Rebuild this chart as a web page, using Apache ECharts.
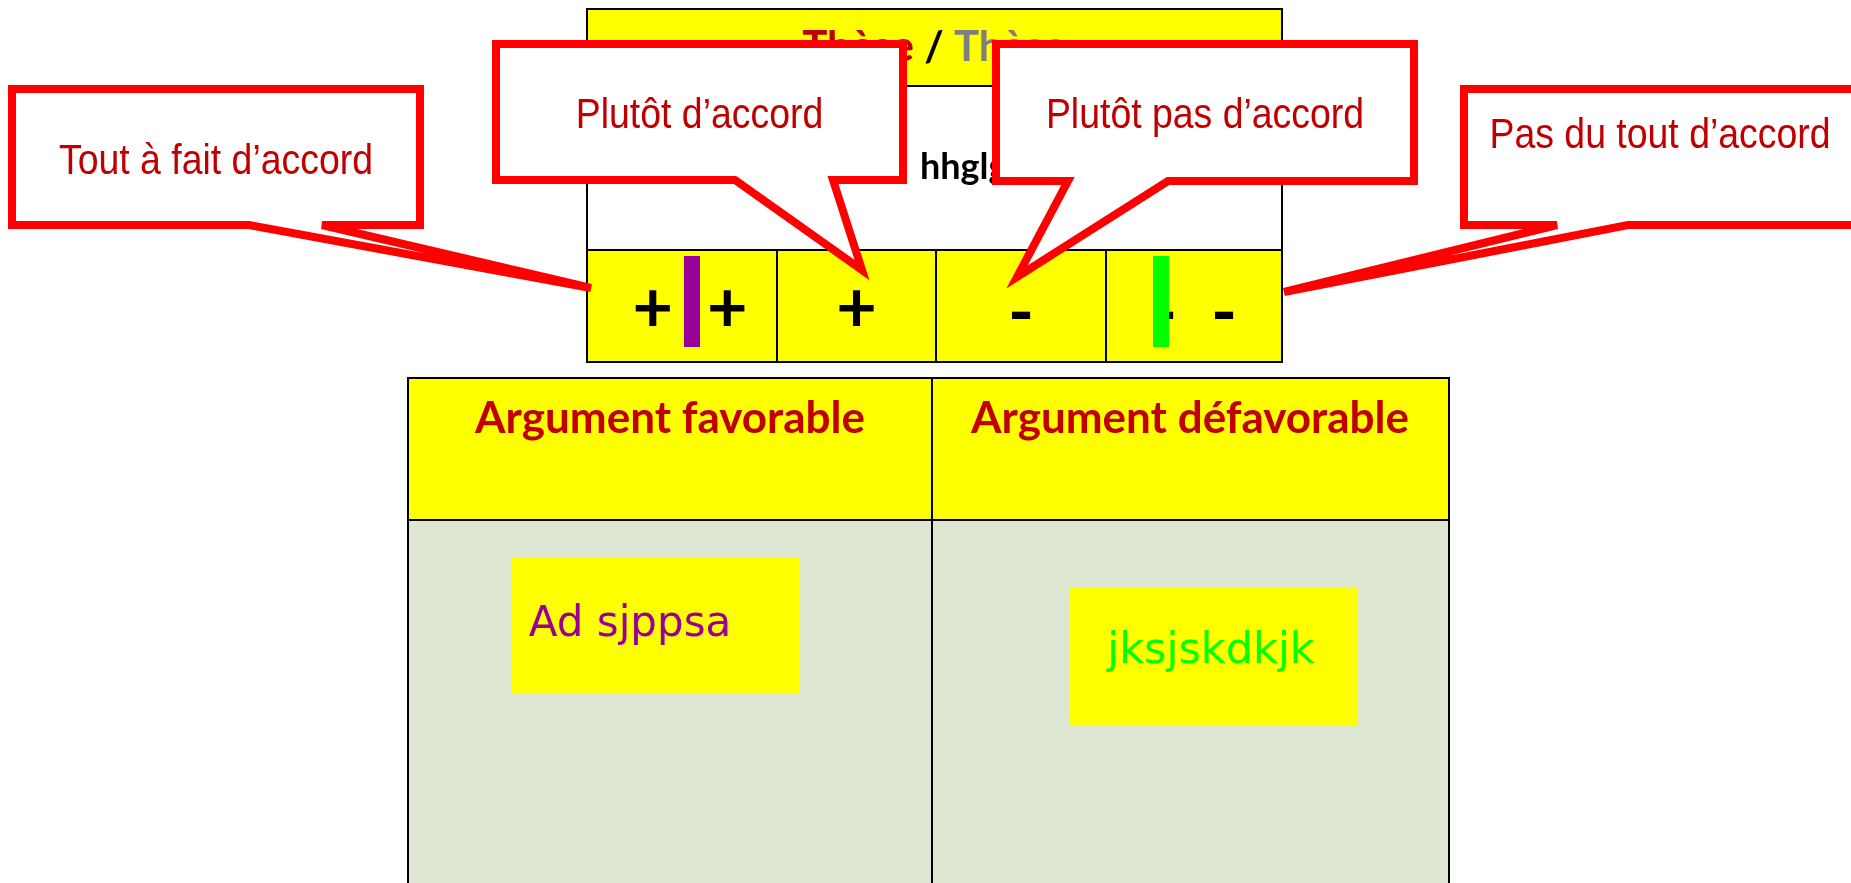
<!DOCTYPE html>
<html>
<head>
<meta charset="utf-8">
<title>Thèse / Thèse</title>
<script src="https://cdn.jsdelivr.net/npm/echarts@6/dist/echarts.min.js"></script>
<style>
html, body { margin: 0; padding: 0; background: #fff; }
#main { width: 1851px; height: 883px; }
</style>
</head>
<body>
<div id="main"></div>
<script>
// textes du schéma
var titleParts = ['Thèse', '/', 'Thèse'];
var subject = 'hhglgjhg';
var scaleLabels = ['Tout à fait d’accord', 'Plutôt d’accord', 'Plutôt pas d’accord', 'Pas du tout d’accord'];
var scaleMarks = ['+  +', '+', '-', '-  -'];
var argumentHeaders = ['Argument favorable', 'Argument défavorable'];
var argumentNotes = ['Ad sjppsa', 'jksjskdkjk'];

var RED = '#c00000';
var YELLOW = '#ffff00';

var chart = echarts.init(document.getElementById('main'));

// colonnes du tableau du haut
var colX = [587, 777, 936, 1106, 1282];

function cell(x, y, w, h, fill) {
	return {
		type: 'rect',
		shape: { x: x, y: y, width: w, height: h },
		style: { fill: fill, stroke: '#000', lineWidth: 2 }
	};
}

function txt(x, y, text, opts) {
	var st = {
		text: text, x: 0, y: 0,
		fill: opts.fill || '#000',
		fontSize: opts.fontSize,
		fontFamily: opts.fontFamily || 'Lato',
		fontWeight: opts.fontWeight || 'normal',
		align: opts.align || 'center', verticalAlign: 'middle',
		textAlign: opts.align || 'center', textVerticalAlign: 'middle'
	};
	if (opts.rich) st.rich = opts.rich;
	return { type: 'text', z: opts.z || 10, x: x, y: y, scaleX: opts.scaleX || 1, style: st };
}

// bulle : rectangle + pointe
function callout(box, tail, label, textY) {
	var x0 = box[0], y0 = box[1], x1 = box[2], y1 = box[3];
	var pts = [[x0, y0], [x1, y0], [x1, y1], [tail.b, y1], tail.tip, [tail.a, y1], [x0, y1]];
	return [{
		type: 'polygon', z: 20,
		shape: { points: pts },
		style: { fill: '#fff', stroke: '#ff0000', lineWidth: 8, lineJoin: 'miter', miterLimit: 5 }
	}, txt((x0 + x1) / 2, textY, label, {
		fontSize: 43, scaleX: 0.87, fontFamily: '"Liberation Sans", Arial', fill: RED, z: 21
	})];
}

var els = [];

// tableau du haut
els.push(cell(587, 9, 695, 77, YELLOW));
els.push(cell(587, 86, 695, 164, '#fff'));
for (var i = 0; i < 4; i++) {
	els.push(cell(colX[i], 250, colX[i + 1] - colX[i], 112, YELLOW));
}
els.push(txt(934, 47, '{r|' + titleParts[0] + '} {k|' + titleParts[1] + '} {g|' + titleParts[2] + '}', {
	fontSize: 42, fontWeight: 'bold',
	rich: {
		r: { fill: RED, fontSize: 42, fontWeight: 'bold', fontFamily: 'Lato' },
		k: { fill: '#000', fontSize: 42, fontWeight: 'bold', fontFamily: 'Lato' },
		g: { fill: '#7f7f7f', fontSize: 42, fontWeight: 'bold', fontFamily: 'Lato' }
	}
}));
els.push(txt(920, 167, subject, { fontSize: 36, fontWeight: 'bold', align: 'left' }));
for (var j = 0; j < 4; j++) {
	var isPlus = scaleMarks[j].charAt(0) === '+';
	els.push(txt((colX[j] + colX[j + 1]) / 2 + (j === 0 ? 8 : 0), isPlus ? 309.5 : 314.5, scaleMarks[j], { fontSize: 70, fontWeight: 'bold' }));
}
// repères de vote
els.push({ type: 'rect', z: 12, shape: { x: 684, y: 256, width: 16, height: 91 }, style: { fill: '#990099' } });
els.push({ type: 'rect', z: 12, shape: { x: 1153, y: 256, width: 16, height: 91 }, style: { fill: '#00ff00' } });

// tableau des arguments
els.push(cell(408, 378, 524, 142, YELLOW));
els.push(cell(932, 378, 517, 142, YELLOW));
els.push(cell(408, 520, 524, 400, '#dde6d1'));
els.push(cell(932, 520, 517, 400, '#dde6d1'));
els.push(txt(670, 419, argumentHeaders[0], { fontSize: 44, fontWeight: 'bold', fill: RED }));
els.push(txt(1190, 419, argumentHeaders[1], { fontSize: 44, fontWeight: 'bold', fill: RED }));

els.push({ type: 'rect', z: 11, shape: { x: 511, y: 557, width: 289, height: 137 }, style: { fill: YELLOW } });
els.push({ type: 'rect', z: 11, shape: { x: 1070, y: 588, width: 288, height: 137 }, style: { fill: YELLOW } });
els.push(txt(630, 625, argumentNotes[0], { fontSize: 42, fontFamily: 'DejaVu Sans', fill: '#990099', z: 12 }));
els.push(txt(1211, 652, argumentNotes[1], { fontSize: 43, fontFamily: 'DejaVu Sans', fill: '#00ff00', z: 12 }));

// bulles
els = els.concat(callout([12, 89, 420, 225], { a: 249, b: 322, tip: [591, 288] }, scaleLabels[0], 162));
els = els.concat(callout([496, 44, 903, 180], { a: 735, b: 833, tip: [862, 270] }, scaleLabels[1], 116.5));
els = els.concat(callout([996, 44, 1414, 181], { a: 1068, b: 1168, tip: [1017, 277] }, scaleLabels[2], 116.5));
els = els.concat(callout([1464, 89, 1856, 225], { a: 1557, b: 1628, tip: [1284, 292] }, scaleLabels[3], 136.5));

chart.setOption({
	backgroundColor: '#fff',
	graphic: { elements: els }
});
</script>
</body>
</html>
